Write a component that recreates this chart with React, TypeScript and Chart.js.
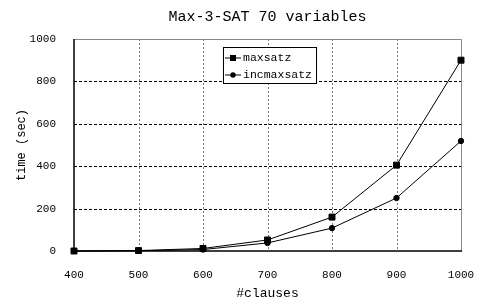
import React, { useEffect, useRef } from "react";
import { Chart, registerables } from "chart.js";

Chart.register(...registerables);

const TITLE = "Max-3-SAT 70 variables";
const X_TITLE = "#clauses";
const Y_TITLE = "time (sec)";
const CLAUSES = [400, 500, 600, 700, 800, 900, 1000];
const MAXSATZ = [0, 2, 12, 52, 160, 405, 900];
const INCMAXSATZ = [0, 1, 7, 38, 108, 250, 519];
const SERIES_LABELS = ["maxsatz", "incmaxsatz"];
const FONT = "'Liberation Mono', 'DejaVu Sans Mono', monospace";

const framePlugin = {
  id: "frame",
  beforeDatasetsDraw(chart: any) {
    const { ctx, chartArea: a, scales } = chart;
    const xs = scales.x, ys = scales.y;
    ctx.save();
    ctx.lineWidth = 1;
    ctx.strokeStyle = "#000";
    ctx.setLineDash([3, 2]);
    ys.ticks.forEach((t: any) => {
      if (t.value <= ys.min || t.value >= ys.max) return;
      const y = Math.round(ys.getPixelForValue(t.value)) + 0.5;
      ctx.beginPath(); ctx.moveTo(a.left, y); ctx.lineTo(a.right, y); ctx.stroke();
    });
    ctx.strokeStyle = "#777";
    ctx.setLineDash([2, 2]);
    xs.ticks.forEach((t: any) => {
      if (t.value <= xs.min || t.value >= xs.max) return;
      const x = Math.round(xs.getPixelForValue(t.value)) + 0.5;
      ctx.beginPath(); ctx.moveTo(x, a.top); ctx.lineTo(x, a.bottom); ctx.stroke();
    });
    ctx.setLineDash([]);
    ctx.strokeStyle = "#888";
    ctx.beginPath();
    ctx.moveTo(Math.round(a.left) + 0.5, Math.round(a.top) + 0.5);
    ctx.lineTo(Math.round(a.right) + 0.5, Math.round(a.top) + 0.5);
    ctx.lineTo(Math.round(a.right) + 0.5, Math.round(a.bottom) + 0.5);
    ctx.stroke();
    ctx.strokeStyle = "#000";
    ctx.lineWidth = 1.5;
    ctx.beginPath();
    ctx.moveTo(Math.round(a.left), Math.round(a.top));
    ctx.lineTo(Math.round(a.left), Math.round(a.bottom));
    ctx.lineTo(Math.round(a.right) + 1, Math.round(a.bottom));
    ctx.stroke();
    ctx.restore();
  },
  afterDraw(chart: any) {
    const { ctx, chartArea: a } = chart;
    ctx.save();
    ctx.fillStyle = "#000";
    ctx.font = `15px ${FONT}`;
    ctx.textAlign = "center";
    ctx.textBaseline = "middle";
    ctx.fillText(TITLE, (a.left + a.right) / 2, 17);
    const bx = a.left + 149, by = a.top + 8, bw = 93, bh = 36;
    ctx.fillStyle = "#fff";
    ctx.fillRect(bx, by, bw, bh);
    ctx.strokeStyle = "#000";
    ctx.lineWidth = 1;
    ctx.strokeRect(bx + 0.5, by + 0.5, bw, bh);
    const styles = ["rect", "circle"];
    chart.data.datasets.forEach((ds: any, i: number) => {
      const cy = by + 11 + i * 17;
      ctx.strokeStyle = "#000";
      ctx.lineWidth = 1;
      ctx.beginPath(); ctx.moveTo(bx + 2, cy); ctx.lineTo(bx + 18, cy); ctx.stroke();
      ctx.fillStyle = "#000";
      if (styles[i] === "rect") {
        ctx.fillRect(bx + 10 - 3, cy - 3, 6, 6);
      } else {
        ctx.beginPath(); ctx.arc(bx + 10, cy, 2.7, 0, Math.PI * 2); ctx.fill();
      }
      ctx.font = `11.5px ${FONT}`;
      ctx.textAlign = "left";
      ctx.textBaseline = "middle";
      ctx.fillText(ds.label, bx + 20, cy);
    });
    ctx.restore();
  },
};

export default function App() {
  const ref = useRef<HTMLCanvasElement>(null);
  useEffect(() => {
    document.body.style.margin = "0";
    const chart = new Chart(ref.current!, {
      type: "line",
      data: {
        labels: CLAUSES,
        datasets: [
          {
            label: SERIES_LABELS[0],
            data: CLAUSES.map((c, i) => ({ x: c, y: MAXSATZ[i] })),
            borderColor: "#000",
            backgroundColor: "#000",
            borderWidth: 1,
            pointStyle: "rect",
            pointRadius: 4.2,
            tension: 0,
            clip: false,
          },
          {
            label: SERIES_LABELS[1],
            data: CLAUSES.map((c, i) => ({ x: c, y: INCMAXSATZ[i] })),
            borderColor: "#000",
            backgroundColor: "#000",
            borderWidth: 1,
            pointStyle: "circle",
            pointRadius: 2.7,
            tension: 0,
            clip: false,
          },
        ],
      },
      options: {
        animation: false,
        responsive: false,
        layout: { padding: { left: 0, top: 39, right: 18, bottom: 0 } },
        plugins: { legend: { display: false }, title: { display: false }, tooltip: { enabled: false } },
        scales: {
          x: {
            type: "linear",
            min: 400,
            max: 1000,
            grid: { display: false },
            border: { display: false },
            ticks: { stepSize: 100, color: "#000", font: { family: FONT, size: 11 }, padding: 9, maxRotation: 0, callback: (v: any) => String(v) },
            title: { display: true, text: X_TITLE, color: "#000", font: { family: FONT, size: 13 }, padding: { top: 2, bottom: 2 } },
            afterFit: (s: any) => { s.height = 52; s.paddingRight = 0; },
          },
          y: {
            min: 0,
            max: 1000,
            grid: { display: false },
            border: { display: false },
            ticks: { stepSize: 200, color: "#000", font: { family: FONT, size: 11 }, padding: 10, callback: (v: any) => String(v) },
            title: { display: true, text: Y_TITLE, color: "#000", font: { family: FONT, size: 12 }, padding: { top: 15, bottom: 0 } },
            afterFit: (s: any) => { s.width = 74; },
          },
        },
      },
      plugins: [framePlugin],
    });
    return () => chart.destroy();
  }, []);
  return (
    <div style={{ position: "absolute", left: 0, top: 0, width: 479, height: 303 }}>
      <canvas ref={ref} width={479} height={303} style={{ display: "block" }} />
    </div>
  );
}
